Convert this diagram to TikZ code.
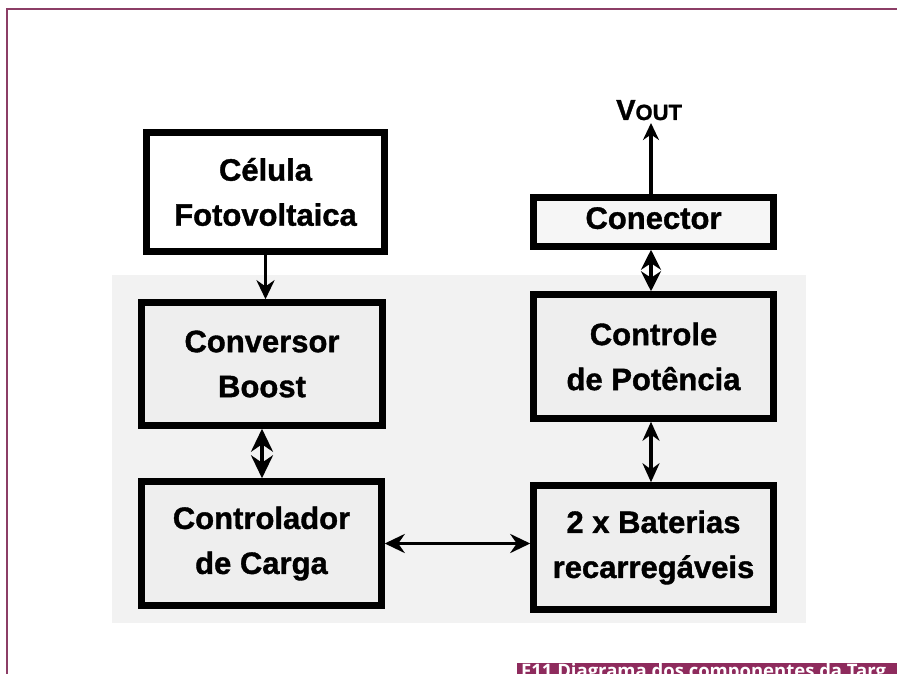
\documentclass[tikz,border=0pt]{standalone}
\usepackage{fontspec}
\setmainfont{Liberation Sans}[BoldFeatures={FakeBold=1.2}]
\newfontfamily\capfont{Open Sans}
\usetikzlibrary{arrows.meta}
\definecolor{framec}{HTML}{8C3D66}
\definecolor{capbar}{HTML}{8E2B5D}
\definecolor{bgc}{HTML}{F2F2F2}
\definecolor{boxg}{HTML}{EEEEEE}
\tikzset{
  blk/.style={draw=black, line width=6.5pt, align=center, inner sep=0pt,
    font=\fontsize{31}{45}\selectfont\bfseries},
  conn/.style={line width=3.5pt, draw=black},
  bigtip/.style={{Stealth[length=23pt,width=22pt]}-{Stealth[length=23pt,width=22pt]}},
}
\begin{document}
\begin{tikzpicture}[x=1pt,y=-1pt]
\useasboundingbox (0,0) rectangle (897,674);
\clip (0,0) rectangle (897,674);
\fill[white] (0,0) rectangle (897,674);
% frame
\draw[framec, line width=2pt] (7,674) -- (7,9) -- (897,9);
% gray background
\fill[bgc] (112,275) rectangle (806,623);
% boxes
\node[blk, fill=white, minimum width=238pt, minimum height=119pt] (cel) at (265.5,192) {Célula\\Fotovoltaica};
\node[blk, fill=boxg, minimum width=241pt, minimum height=123pt] (conv) at (262,364) {Conversor\\Boost};
\node[blk, fill=boxg, minimum width=240pt, minimum height=124pt] (ctrl) at (261.5,543.5) {Controlador\\de Carga};
\node[blk, fill=white!50!boxg, minimum width=240pt, minimum height=49pt] (con) at (653.5,222) {\raisebox{8pt}{Conector}};
\node[blk, fill=boxg, minimum width=240pt, minimum height=124pt] (pot) at (653.5,356.5) {Controle\\de Potência};
\node[blk, fill=boxg, minimum width=240pt, minimum height=124pt] (bat) at (653.5,547.5) {2 x Baterias\\recarregáveis};
% Vout
\node[font=\bfseries, anchor=base west, inner sep=0pt] (vout) at (616,120) {\fontsize{29}{29}\selectfont V\fontsize{22}{22}\selectfont OUT};
\coordinate (vtop) at (651,123);
% connectors
\draw[conn, -{Stealth[length=19pt,width=18pt]}] (cel.south) -- (cel.south |- conv.north);
\draw[conn, bigtip] (conv.south) -- (conv.south |- ctrl.north);
\draw[conn, {Stealth[length=20pt,width=19pt]}-{Stealth[length=20pt,width=19pt]}] (ctrl.east) -- (ctrl.east -| bat.west);
\draw[conn, {Stealth[length=20pt,width=20pt]}-{Stealth[length=20pt,width=20pt]}] ([xshift=-2.5pt]con.south) -- ([xshift=-2.5pt]pot.north);
\draw[conn, line width=4pt, {Stealth[length=19pt,width=17pt]}-{Stealth[length=19pt,width=17pt]}] ([xshift=-2.5pt]pot.south) -- ([xshift=-2.5pt]bat.north);
\draw[conn, -{Stealth[length=17pt,width=16pt]}] ([xshift=-2.5pt]con.north) -- (vtop);
% caption bar
\fill[capbar] (517,663) rectangle (897,690);
\node[anchor=base west, inner sep=0pt, text=white, font=\capfont\bfseries\fontsize{18.5}{18.5}\selectfont] (cap) at (521,677) {F11 Diagrama dos componentes da Targ};
\end{tikzpicture}
\end{document}
